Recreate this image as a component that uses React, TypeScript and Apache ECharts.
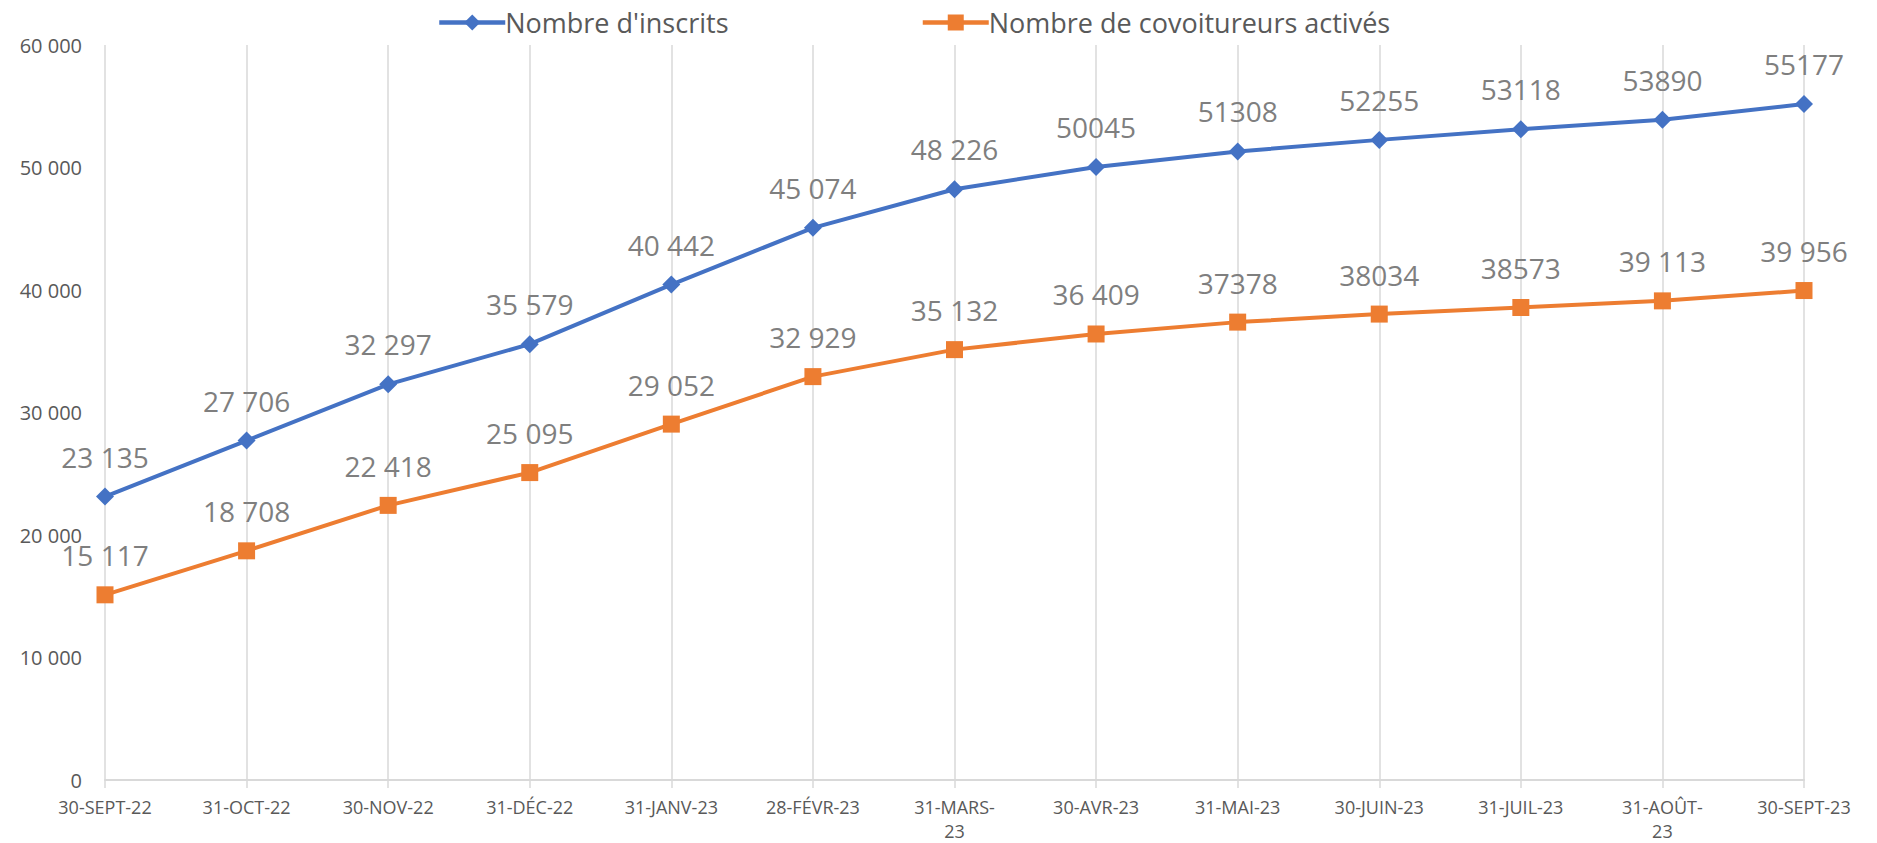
import React, { useEffect, useRef } from "react";
import * as echarts from "echarts";

const categories = [
  "30-SEPT-22", "31-OCT-22", "30-NOV-22", "31-DÉC-22", "31-JANV-23", "28-FÉVR-23",
  "31-MARS-23", "30-AVR-23", "31-MAI-23", "30-JUIN-23", "31-JUIL-23", "31-AOÛT-23", "30-SEPT-23",
];
const wrappedLabels: Record<string, string> = {
  "31-MARS-23": "31-MARS-\n23",
  "31-AOÛT-23": "31-AOÛT-\n23",
};

const inscrits = [23135, 27706, 32297, 35579, 40442, 45074, 48226, 50045, 51308, 52255, 53118, 53890, 55177];
const inscritsLabels = ["23 135", "27 706", "32 297", "35 579", "40 442", "45 074", "48 226", "50045", "51308", "52255", "53118", "53890", "55177"];

const covoitureurs = [15117, 18708, 22418, 25095, 29052, 32929, 35132, 36409, 37378, 38034, 38573, 39113, 39956];
const covoitureursLabels = ["15 117", "18 708", "22 418", "25 095", "29 052", "32 929", "35 132", "36 409", "37378", "38034", "38573", "39 113", "39 956"];

const yMin = 0;
const yMax = 60000;
const yInterval = 10000;

const FONT = "'Open Sans', 'Noto Sans', sans-serif";

export default function App() {
  const ref = useRef<HTMLDivElement>(null);
  useEffect(() => {
    document.body.style.margin = "0";
    if (!ref.current) return;
    const chart = echarts.init(ref.current, undefined, { renderer: "svg" });
    const labelStyle = (texts: string[]) => ({
      show: true,
      position: "top",
      distance: 17,
      color: "#7f7f7f",
      fontSize: 28,
      fontFamily: FONT,
      formatter: (p: any) => texts[p.dataIndex],
    });
    chart.setOption({
      animation: false,
      backgroundColor: "#ffffff",
      textStyle: { fontFamily: FONT },
      legend: {
        top: 4,
        left: 432,
        itemGap: 192,
        itemWidth: 66,
        itemHeight: 20,
        lineStyle: { width: 4.5 },
        textStyle: { color: "#595959", fontSize: 27, fontFamily: FONT, padding: [0, 0, 0, -5] },
        data: ["Nombre d'inscrits", "Nombre de covoitureurs activés"],
      },
      grid: { left: 105, right: 73, top: 45, bottom: 63, containLabel: false, outerBoundsMode: "none" },
      xAxis: {
        type: "category",
        data: categories,
        boundaryGap: false,
        axisLine: { show: true, lineStyle: { color: "#d9d9d9", width: 2 } },
        axisTick: { show: true, alignWithLabel: true, length: 8, lineStyle: { color: "#d9d9d9", width: 1.5 } },
        splitLine: { show: true, lineStyle: { color: "#d9d9d9", width: 1.5 } },
        axisLabel: {
          color: "#595959",
          fontSize: 18,
          fontFamily: FONT,
          margin: 15,
          interval: 0,
          lineHeight: 24,
          formatter: (v: string) => wrappedLabels[v] ?? v,
        },
      },
      yAxis: {
        type: "value",
        min: yMin,
        max: yMax,
        interval: yInterval,
        axisLine: { show: false },
        axisTick: { show: false },
        splitLine: { show: false },
        axisLabel: {
          color: "#595959",
          fontSize: 20,
          fontFamily: FONT,
          margin: 23,
          formatter: (v: number) => String(v).replace(/\B(?=(\d{3})+(?!\d))/g, " "),
        },
      },
      series: [
        {
          name: "Nombre d'inscrits",
          type: "line",
          data: inscrits,
          symbol: "diamond",
          symbolSize: 18,
          color: "#4472C4",
          lineStyle: { width: 4, color: "#4472C4" },
          itemStyle: { color: "#4472C4" },
          label: labelStyle(inscritsLabels),
          z: 3,
        },
        {
          name: "Nombre de covoitureurs activés",
          type: "line",
          data: covoitureurs,
          symbol: "rect",
          symbolSize: 17,
          color: "#ED7D31",
          lineStyle: { width: 4, color: "#ED7D31" },
          itemStyle: { color: "#ED7D31" },
          label: labelStyle(covoitureursLabels),
          z: 2,
        },
      ],
    });
    return () => chart.dispose();
  }, []);
  return <div ref={ref} style={{ width: 1877, height: 843 }} />;
}
